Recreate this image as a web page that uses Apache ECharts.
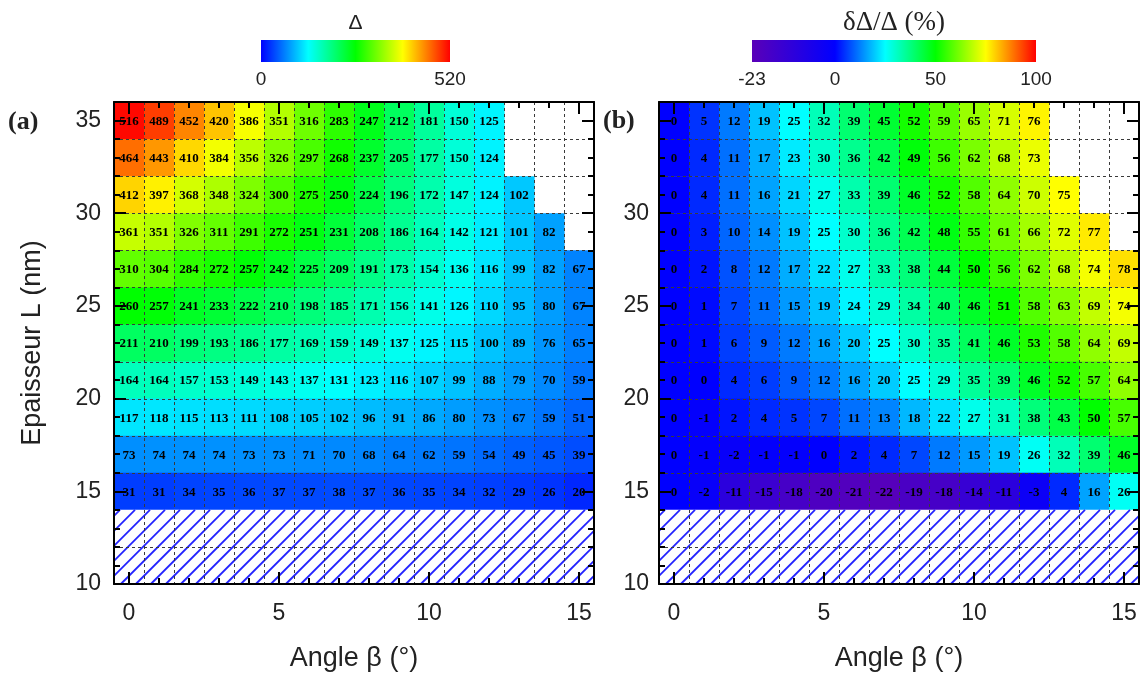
<!DOCTYPE html>
<html><head><meta charset="utf-8">
<script src="https://cdn.jsdelivr.net/npm/echarts@6/dist/echarts.min.js"></script>
<style>html,body{margin:0;padding:0;background:#fff}#c{width:1143px;height:681px}</style>
</head><body><div id="c"></div>
<script>
// ---------------- data ----------------
const angles = [0,1,2,3,4,5,6,7,8,9,10,11,12,13,14,15];
const thickness = [35,33,31,29,27,25,23,21,19,17,15];
const gapRows = [
  [516,489,452,420,386,351,316,283,247,212,181,150,125,null,null,null],
  [464,443,410,384,356,326,297,268,237,205,177,150,124,null,null,null],
  [412,397,368,348,324,300,275,250,224,196,172,147,124,102,null,null],
  [361,351,326,311,291,272,251,231,208,186,164,142,121,101,82,null],
  [310,304,284,272,257,242,225,209,191,173,154,136,116,99,82,67],
  [260,257,241,233,222,210,198,185,171,156,141,126,110,95,80,67],
  [211,210,199,193,186,177,169,159,149,137,125,115,100,89,76,65],
  [164,164,157,153,149,143,137,131,123,116,107,99,88,79,70,59],
  [117,118,115,113,111,108,105,102,96,91,86,80,73,67,59,51],
  [73,74,74,74,73,73,71,70,68,64,62,59,54,49,45,39],
  [31,31,34,35,36,37,37,38,37,36,35,34,32,29,26,20]
];
const relRows = [
  [0,5,12,19,25,32,39,45,52,59,65,71,76,null,null,null],
  [0,4,11,17,23,30,36,42,49,56,62,68,73,null,null,null],
  [0,4,11,16,21,27,33,39,46,52,58,64,70,75,null,null],
  [0,3,10,14,19,25,30,36,42,48,55,61,66,72,77,null],
  [0,2,8,12,17,22,27,33,38,44,50,56,62,68,74,78],
  [0,1,7,11,15,19,24,29,34,40,46,51,58,63,69,74],
  [0,1,6,9,12,16,20,25,30,35,41,46,53,58,64,69],
  [0,0,4,6,9,12,16,20,25,29,35,39,46,52,57,64],
  [0,-1,2,4,5,7,11,13,18,22,27,31,38,43,50,57],
  [0,-1,-2,-1,-1,0,2,4,7,12,15,19,26,32,39,46],
  [0,-2,-11,-15,-18,-20,-21,-22,-19,-18,-14,-11,-3,4,16,26]
];
const hatchBand = [10, 14];
const xTickLabels = [0,5,10,15];
const yTickLabelsA = [10,15,20,25,30,35];
const yTickLabelsB = [10,15,20,25,30];
const gapBarTicks = [0, 520];
const relBarTicks = [-23, 0, 50, 100];
const gapColorStops = [0, 130, 260, 390, 520];
const relColorStops = [-23, 0, 25, 50, 75, 100];

// ---------------- styling helpers ----------------
const jet = ['#0000ff','#00ffff','#00ff00','#ffff00','#ff0000'];
const relColors = ['#5a00b8','#0000ff','#00ffff','#00ff00','#ffff00','#ff0000'];
function hex2rgb(h){return [parseInt(h.slice(1,3),16),parseInt(h.slice(3,5),16),parseInt(h.slice(5,7),16)];}
function interp(stops, cols, v){
  for (let i=0;i<stops.length-1;i++){
    if (v<=stops[i+1] || i===stops.length-2){
      const t=Math.max(0,Math.min(1,(v-stops[i])/(stops[i+1]-stops[i])));
      const a=hex2rgb(cols[i]), b=hex2rgb(cols[i+1]);
      return 'rgb('+a.map((c,k)=>Math.round(c+(b[k]-c)*t)).join(',')+')';
    }
  }
}
const relLo = relColorStops[0], relHi = relColorStops[relColorStops.length-1];
const relPalette = [];
for (let v=relLo; v<=relHi; v++) relPalette.push(interp(relColorStops, relColors, v));

const halfW = (angles[1]-angles[0])/2;
const halfH = (thickness[0]-thickness[1])/2;
const xMin = angles[0]-halfW, xMax = angles[angles.length-1]+halfW;
const yMin = hatchBand[0], yMax = thickness[0]+halfH;

function toData(rows){
  const d=[];
  rows.forEach((r,i)=>r.forEach((v,j)=>{ if(v!==null) d.push([angles[j], thickness[i], v]); }));
  return d;
}

function cellRender(params, api){
  const x=api.value(0), y=api.value(1), v=api.value(2);
  const p0=api.coord([x-halfW, y+halfH]), p1=api.coord([x+halfW, y-halfH]);
  return {type:'group', children:[
    {type:'rect', shape:{x:p0[0], y:p0[1], width:p1[0]-p0[0]+0.6, height:p1[1]-p0[1]+0.6}, style:{fill:api.visual('color')}},
    {type:'text', x:(p0[0]+p1[0])/2, y:(p0[1]+p1[1])/2+1, style:{text:String(v), fill:'#000', font:'bold 13px "Liberation Serif", serif', align:'center', verticalAlign:'middle'}}
  ]};
}
function hatchRender(params, api){
  const lo=api.value(0), hi=api.value(1);
  const a=api.coord([xMin, hi]), b=api.coord([xMax, lo]);
  const x0=a[0], x1=b[0], yT=a[1], yB=b[1], h=yB-yT;
  const ch=[{type:'rect', shape:{x:x0,y:yT,width:x1-x0,height:h}, style:{fill:'#fff'}}];
  for (let bx=x0-h+6; bx<x1; bx+=15){
    const xs=Math.max(bx,x0), xe=Math.min(bx+h,x1);
    if (xe<=xs) continue;
    ch.push({type:'line', shape:{x1:xs,y1:yB-(xs-bx),x2:xe,y2:yB-(xe-bx)}, style:{stroke:'#2323ff', lineWidth:1.8}});
  }
  return {type:'group', children:ch};
}
function gridRender(params, api){
  const ch=[];
  const st={stroke:'#3a3a3a', lineWidth:1, lineDash:[3,3]};
  const top=api.coord([xMin,yMax])[1], bot=api.coord([xMin,yMin])[1];
  const left=api.coord([xMin,yMin])[0], right=api.coord([xMax,yMin])[0];
  for (let i=0;i<angles.length-1;i++){
    const px=Math.round(api.coord([(angles[i]+angles[i+1])/2, yMin])[0])+0.5;
    ch.push({type:'line', shape:{x1:px,y1:top,x2:px,y2:bot}, style:st});
  }
  const ys=thickness.slice(0,-1).map(t=>t-halfH).concat([(hatchBand[0]+hatchBand[1])/2]);
  ys.forEach(yv=>{
    const py=Math.round(api.coord([xMin,yv])[1])+0.5;
    ch.push({type:'line', shape:{x1:left,y1:py,x2:right,y2:py}, style:st});
  });
  return {type:'group', children:ch};
}

const grids = [
  {left:114, top:102, width:480, height:482},
  {left:659, top:102, width:480, height:482}
];
const axisLineStyle = {color:'#000', width:2};
const tickStyle = {color:'#000', width:2};
const labelFont = {fontFamily:'"Liberation Sans", Arial, sans-serif', fontSize:23, color:'#222'};
const xAxes=[], yAxes=[];
grids.forEach((g,gi)=>{
  const yLabels = gi===0 ? yTickLabelsA : yTickLabelsB;
  ['bottom','top'].forEach(pos=>{
    xAxes.push({
      type:'value', gridIndex:gi, position:pos, min:xMin, max:xMax, splitNumber:3, minInterval:5, maxInterval:5, z:10,
      axisLine:{show:true, onZero:false, lineStyle:axisLineStyle},
      axisTick:{show:true, inside:true, length:12, lineStyle:tickStyle},
      minorTick:{show:true, splitNumber:5, length:6, lineStyle:tickStyle},
      splitLine:{show:false},
      axisLabel:Object.assign({show:pos==='bottom', margin:18, formatter:v=>xTickLabels.indexOf(v)>=0?String(v):''}, labelFont),
      name:pos==='bottom'?'Angle β (°)':'', nameLocation:'middle', nameGap:61,
      nameTextStyle:{fontFamily:'"Liberation Sans", Arial, sans-serif', fontSize:27, color:'#222'}
    });
  });
  ['left','right'].forEach(pos=>{
    yAxes.push({
      type:'value', gridIndex:gi, position:pos, min:yMin, max:yMax, interval:5, z:10,
      axisLine:{show:true, onZero:false, lineStyle:axisLineStyle},
      axisTick:{show:true, inside:true, length:12, lineStyle:tickStyle},
      minorTick:{show:true, splitNumber:5, length:6, lineStyle:tickStyle},
      splitLine:{show:false},
      axisLabel:Object.assign({show:pos==='left', margin:gi===0?13:10, formatter:v=>yLabels.indexOf(v)>=0?String(v):''}, labelFont),
      name:(pos==='left'&&gi===0)?'Epaisseur L (nm)':'', nameLocation:'middle', nameRotate:90, nameGap:68,
      nameTextStyle:{fontFamily:'"Liberation Sans", Arial, sans-serif', fontSize:27, color:'#222'}
    });
  });
});

// colorbars (legend graphics)
const graphic = [];
function colorbar(x0, width, y0, height, ticks, scale, gradStops, title, titleFont, titleGap){
  graphic.push({type:'rect', shape:{x:x0,y:y0,width:width,height:height},
    style:{fill:new echarts.graphic.LinearGradient(0,0,1,0,gradStops)}});
  ticks.forEach(t=>graphic.push({type:'text', x:x0+scale(t)*width, y:y0+height+8,
    style:{text:String(t), font:'19px "Liberation Sans", Arial, sans-serif', fill:'#222', align:'center', verticalAlign:'top'}}));
  graphic.push({type:'text', x:x0+width/2, y:y0-titleGap, style:{text:title, font:titleFont, fill:'#222', align:'center', verticalAlign:'bottom'}});
}
const gapScale = v=>(v-gapBarTicks[0])/(gapBarTicks[gapBarTicks.length-1]-gapBarTicks[0]);
colorbar(261, 189, 40, 22, gapBarTicks, gapScale,
  gapColorStops.map((s,i)=>({offset:gapScale(s), color:jet[i]})), 'Δ', '21px "Liberation Sans", Arial, sans-serif', 6);
const negFrac = 0.292;
const relScale = v=> v<0 ? negFrac*(v-relLo)/(0-relLo) : negFrac+(1-negFrac)*v/relHi;
colorbar(752, 284, 40, 22, relBarTicks, relScale,
  relColorStops.map((s,i)=>({offset:relScale(s), color:relColors[i]})), 'δΔ/Δ (%)', '27px "Liberation Serif", "Times New Roman", serif', 4);
graphic.push({type:'text', x:8, y:122, style:{text:'(a)', font:'bold 26px "Liberation Serif", serif', fill:'#222', verticalAlign:'middle'}});
graphic.push({type:'text', x:603, y:121, style:{text:'(b)', font:'bold 26px "Liberation Serif", serif', fill:'#222', verticalAlign:'middle'}});

const option = {
  backgroundColor:'#fff',
  animation:false,
  grid:grids,
  xAxis:xAxes,
  yAxis:yAxes,
  visualMap:[
    {show:false, type:'continuous', seriesIndex:0, dimension:2, min:gapColorStops[0], max:gapColorStops[gapColorStops.length-1], inRange:{color:jet}},
    {show:false, type:'continuous', seriesIndex:1, dimension:2, min:relLo, max:relHi, inRange:{color:relPalette}}
  ],
  graphic:graphic,
  series:[
    {type:'custom', name:'Δ', xAxisIndex:0, yAxisIndex:0, data:toData(gapRows), renderItem:cellRender, encode:{x:0,y:1}, z:2},
    {type:'custom', name:'δΔ/Δ', xAxisIndex:2, yAxisIndex:2, data:toData(relRows), renderItem:cellRender, encode:{x:0,y:1}, z:2},
    {type:'custom', xAxisIndex:0, yAxisIndex:0, data:[hatchBand], renderItem:hatchRender, encode:{x:-1,y:[0,1]}, z:2, silent:true},
    {type:'custom', xAxisIndex:2, yAxisIndex:2, data:[hatchBand], renderItem:hatchRender, encode:{x:-1,y:[0,1]}, z:2, silent:true},
    {type:'custom', xAxisIndex:0, yAxisIndex:0, data:[[0]], renderItem:gridRender, z:3, silent:true},
    {type:'custom', xAxisIndex:2, yAxisIndex:2, data:[[0]], renderItem:gridRender, z:3, silent:true}
  ]
};
const chart = echarts.init(document.getElementById('c'), null, {renderer:'canvas'});
chart.setOption(option);
</script>
</body></html>
